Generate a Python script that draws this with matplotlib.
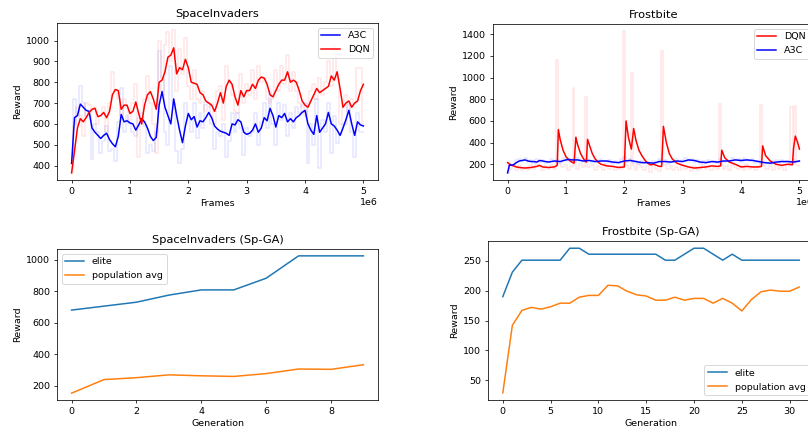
import numpy as np
import matplotlib
matplotlib.use("Agg")
import matplotlib.pyplot as plt
from matplotlib.ticker import MultipleLocator

# ---- SpaceInvaders (A3C vs DQN), values every 0.05e6 frames ----
si_a3c_smooth = [410, 630, 640, 695, 680, 665, 660, 580, 560, 545, 530, 545, 555, 525, 505, 490,
                 540, 645, 610, 615, 605, 600, 570, 595, 625, 610, 580, 540, 520, 535, 690, 755,
                 680, 640, 600, 720, 640, 570, 510, 590, 650, 620, 635, 585, 615, 610, 630, 655,
                 630, 590, 575, 565, 560, 555, 545, 600, 595, 620, 610, 560, 550, 555, 570, 600,
                 560, 580, 630, 615, 675, 640, 585, 640, 630, 650, 610, 625, 610, 630, 640, 655,
                 665, 600, 570, 550, 640, 560, 580, 600, 655, 600, 590, 570, 545, 580, 620, 665,
                 600, 545, 610, 595, 590]
si_dqn_smooth = [365, 470, 580, 625, 610, 630, 655, 670, 675, 635, 640, 655, 630, 660, 740, 765,
                 760, 670, 690, 690, 650, 660, 705, 650, 600, 690, 740, 755, 720, 670, 800, 810,
                 850, 920, 930, 965, 840, 870, 860, 910, 870, 800, 795, 790, 750, 740, 710, 700,
                 690, 660, 700, 750, 700, 780, 810, 790, 730, 690, 760, 730, 760, 760, 790, 770,
                 810, 825, 820, 790, 740, 730, 760, 790, 810, 810, 850, 800, 810, 800, 760, 710,
                 690, 680, 710, 740, 770, 750, 760, 770, 780, 830, 810, 850, 770, 680, 700, 710,
                 680, 700, 710, 760, 790]
si_a3c_raw = [410, 720, 600, 780, 700, 640, 660, 430, 600, 560, 460, 520, 590, 470, 480, 420,
              610, 770, 560, 640, 600, 560, 540, 630, 650, 590, 460, 500, 470, 560, 950, 820,
              560, 500, 880, 700, 470, 410, 480, 700, 640, 560, 700, 530, 650, 580, 690, 700,
              600, 480, 560, 540, 600, 440, 520, 650, 560, 650, 580, 450, 580, 540, 560, 650,
              500, 610, 700, 580, 760, 600, 500, 700, 620, 690, 540, 650, 580, 680, 650, 690,
              700, 410, 600, 500, 720, 390, 620, 560, 700, 460, 640, 510, 550, 600, 600, 690,
              560, 440, 650, 560, 560]
si_dqn_raw = [365, 590, 680, 640, 540, 700, 690, 660, 680, 600, 640, 680, 560, 700, 850, 760,
              720, 640, 720, 680, 620, 700, 790, 440, 600, 720, 830, 700, 600, 460, 1000, 760,
              980, 1040, 900, 1050, 760, 960, 840, 1010, 780, 720, 860, 720, 700, 760, 660, 680,
              700, 600, 760, 780, 620, 880, 800, 740, 660, 650, 840, 700, 790, 740, 860, 720,
              880, 800, 820, 720, 700, 720, 860, 760, 880, 790, 930, 760, 850, 760, 700, 680,
              640, 690, 760, 790, 720, 820, 740, 800, 900, 780, 980, 820, 600, 700, 740, 660,
              720, 700, 870, 870, 600]

# ---- Frostbite (DQN vs A3C), frames in units of 1e6 ----
fb_dqn_x = [0.0, 0.05, 0.1, 0.15, 0.2, 0.3, 0.4, 0.5, 0.55, 0.6, 0.7, 0.8, 0.85, 0.87, 0.9, 0.95,
            1.0, 1.05, 1.1, 1.14, 1.17, 1.2, 1.25, 1.3, 1.35, 1.37, 1.4, 1.45, 1.5, 1.55, 1.6,
            1.7, 1.8, 1.9, 2.0, 2.03, 2.07, 2.12, 2.16, 2.2, 2.25, 2.3, 2.35, 2.4, 2.45, 2.5,
            2.6, 2.64, 2.67, 2.72, 2.77, 2.82, 2.9, 3.0, 3.1, 3.2, 3.3, 3.4, 3.5, 3.6, 3.65,
            3.67, 3.72, 3.8, 3.9, 4.0, 4.1, 4.2, 4.3, 4.35, 4.37, 4.42, 4.5, 4.6, 4.7, 4.8,
            4.88, 4.9, 4.93, 4.97, 5.0]
fb_dqn_smooth = [215, 195, 185, 175, 170, 165, 170, 180, 190, 175, 170, 175, 190, 520, 430, 330,
                 270, 240, 220, 210, 450, 380, 300, 250, 220, 430, 380, 300, 250, 220, 200,
                 185, 180, 170, 175, 600, 450, 340, 530, 420, 330, 280, 240, 210, 195, 200,
                 180, 180, 550, 400, 300, 250, 210, 190, 175, 165, 170, 175, 185, 180, 185,
                 330, 260, 220, 200, 175, 180, 175, 175, 180, 370, 280, 230, 200, 190, 200,
                 195, 350, 460, 400, 340]
fb_dqn_raw_x = [0.0, 0.05, 0.1, 0.15, 0.2, 0.25, 0.3, 0.35, 0.4, 0.45, 0.5, 0.55, 0.6, 0.65, 0.7,
                0.75, 0.8, 0.85, 0.88, 0.95, 1.0, 1.05, 1.1, 1.13, 1.16, 1.2, 1.25, 1.3, 1.35,
                1.38, 1.45, 1.5, 1.55, 1.6, 1.65, 1.7, 1.75, 1.8, 1.85, 1.9, 1.95, 2.0, 2.04,
                2.1, 2.14, 2.17, 2.2, 2.25, 2.3, 2.35, 2.4, 2.45, 2.5, 2.55, 2.6, 2.65, 2.68,
                2.75, 2.8, 2.85, 2.9, 2.95, 3.0, 3.05, 3.1, 3.15, 3.2, 3.25, 3.3, 3.35, 3.4,
                3.45, 3.5, 3.55, 3.6, 3.64, 3.67, 3.7, 3.75, 3.8, 3.85, 3.9, 3.95, 4.0, 4.05,
                4.1, 4.15, 4.2, 4.25, 4.3, 4.35, 4.38, 4.45, 4.5, 4.55, 4.6, 4.65, 4.7, 4.75,
                4.8, 4.87, 4.9, 4.93, 4.96, 5.0]
fb_dqn_raw = [210, 160, 180, 150, 190, 150, 170, 150, 190, 160, 200, 170, 150, 180, 160,
              190, 160, 1160, 200, 170, 190, 150, 180, 905, 190, 160, 200, 170, 825,
              170, 190, 150, 180, 170, 150, 190, 160, 180, 150, 170, 160, 1430, 190,
              160, 1045, 180, 150, 200, 170, 150, 180, 130, 200, 160, 140, 1245, 190,
              160, 180, 150, 170, 150, 190, 160, 170, 140, 180, 150, 160, 190, 160,
              180, 150, 170, 160, 760, 190, 160, 180, 150, 190, 170, 160, 180, 150,
              200, 160, 170, 150, 180, 750, 190, 160, 180, 150, 190, 160, 170, 150,
              190, 730, 200, 740, 190, 180]
fb_a3c_x = [0.0, 0.03, 0.1, 0.15, 0.2, 0.25, 0.3, 0.35, 0.4, 0.45, 0.5, 0.55, 0.6, 0.7, 0.8, 0.9,
            1.0, 1.05, 1.1, 1.2, 1.3, 1.4, 1.5, 1.6, 1.7, 1.8, 1.9, 2.0, 2.1, 2.2, 2.3, 2.4,
            2.5, 2.6, 2.7, 2.8, 2.9, 3.0, 3.1, 3.2, 3.3, 3.4, 3.5, 3.6, 3.7, 3.8, 3.9, 4.0,
            4.1, 4.2, 4.3, 4.4, 4.5, 4.6, 4.7, 4.8, 4.9, 5.0]
fb_a3c_smooth = [120, 190, 195, 215, 230, 235, 240, 230, 225, 225, 220, 235, 230, 220, 230, 225,
                 240, 245, 240, 240, 230, 235, 225, 230, 230, 220, 215, 230, 235, 225, 215, 215,
                 210, 225, 225, 220, 230, 225, 240, 235, 220, 215, 225, 220, 230, 230, 240, 235,
                 240, 235, 225, 215, 210, 220, 225, 225, 220, 230]
fb_a3c_raw = [120, 200, 190, 240, 250, 230, 260, 220, 240, 210, 250, 220, 240, 210, 230, 250,
              220, 240, 210, 250, 260, 230, 250, 220, 260, 230, 220, 250, 230, 210, 240, 220,
              250, 230, 210, 240, 200, 230, 210, 250, 270, 220, 250, 210, 230, 200, 230, 210,
              220, 190, 230, 210, 250, 220, 240, 200, 230, 220, 250, 210, 240, 260, 230, 250,
              220, 240, 200, 230, 210, 240, 220, 230, 210, 250, 220, 240, 230, 260, 240, 250,
              220, 260, 240, 230, 250, 210, 230, 200, 220, 210, 200, 230, 240, 210, 240, 220,
              230, 210, 240, 220, 230]

# ---- Sp-GA runs ----
si_ga_elite = [680, 705, 730, 775, 808, 808, 882, 1024, 1024, 1024]
si_ga_pop = [153, 239, 251, 269, 263, 259, 277, 306, 304, 333]
fb_ga_elite = [190, 231, 251, 251, 251, 251, 251, 271, 271, 261, 261, 261, 261, 261, 261, 261,
               261, 251, 251, 261, 271, 271, 261, 251, 261, 251, 251, 251, 251, 251, 251, 251]
fb_ga_pop = [29, 142, 167, 172, 169, 173, 179, 179, 189, 192, 192, 209, 208, 199, 193, 191,
             184, 184, 189, 184, 187, 187, 179, 187, 179, 166, 185, 198, 201, 199, 199, 206]

DPI = 68
plt.rcParams['lines.linewidth'] = 1.6
fig = plt.figure(figsize=(808 / DPI, 433 / DPI), dpi=DPI)
W, H = 808, 433


def box(left, top, right, bottom):
    return [left / W, 1 - bottom / H, (right - left) / W, (bottom - top) / H]


ax1 = fig.add_axes(box(57, 23, 378, 180))
ax2 = fig.add_axes(box(493, 24, 814, 180))
ax3 = fig.add_axes(box(57, 249, 378, 400))
ax4 = fig.add_axes(box(488, 241, 814, 400))

# SpaceInvaders
x_si = np.linspace(0, 5e6, len(si_a3c_smooth))
ax1.plot(x_si, si_a3c_raw, color='b', alpha=0.1, drawstyle='steps-mid')
ax1.plot(x_si, si_dqn_raw, color='r', alpha=0.1, drawstyle='steps-mid')
ax1.plot(x_si, si_a3c_smooth, color='b', label='A3C')
ax1.plot(x_si, si_dqn_smooth, color='r', label='DQN')
ax1.yaxis.set_major_locator(MultipleLocator(100))
ax1.set_title('SpaceInvaders')
ax1.set_xlabel('Frames')
ax1.set_ylabel('Reward')
ax1.legend(loc='upper right')

# Frostbite
x_fb_raw_a3c = np.linspace(0, 5e6, len(fb_a3c_raw))
ax2.plot(np.array(fb_dqn_raw_x) * 1e6, fb_dqn_raw, color='r', alpha=0.1, drawstyle='steps-mid')
ax2.plot(x_fb_raw_a3c, fb_a3c_raw, color='b', alpha=0.1, drawstyle='steps-mid')
ax2.plot(np.array(fb_dqn_x) * 1e6, fb_dqn_smooth, color='r', label='DQN')
ax2.plot(np.array(fb_a3c_x) * 1e6, fb_a3c_smooth, color='b', label='A3C')
ax2.yaxis.set_major_locator(MultipleLocator(200))
ax2.set_title('Frostbite')
ax2.set_xlabel('Frames')
ax2.set_ylabel('Reward')
ax2.legend(loc='upper right')

# Sp-GA
ax3.plot(range(len(si_ga_elite)), si_ga_elite, label='elite')
ax3.plot(range(len(si_ga_pop)), si_ga_pop, label='population avg')
ax3.set_title('SpaceInvaders (Sp-GA)')
ax3.set_xlabel('Generation')
ax3.set_ylabel('Reward')
ax3.legend(loc='upper left')

ax4.plot(range(len(fb_ga_elite)), fb_ga_elite, label='elite')
ax4.plot(range(len(fb_ga_pop)), fb_ga_pop, label='population avg')
ax4.set_title('Frostbite (Sp-GA)')
ax4.set_xlabel('Generation')
ax4.set_ylabel('Reward')
ax4.legend(loc='lower right')

fig.savefig('out.png', dpi=DPI)
